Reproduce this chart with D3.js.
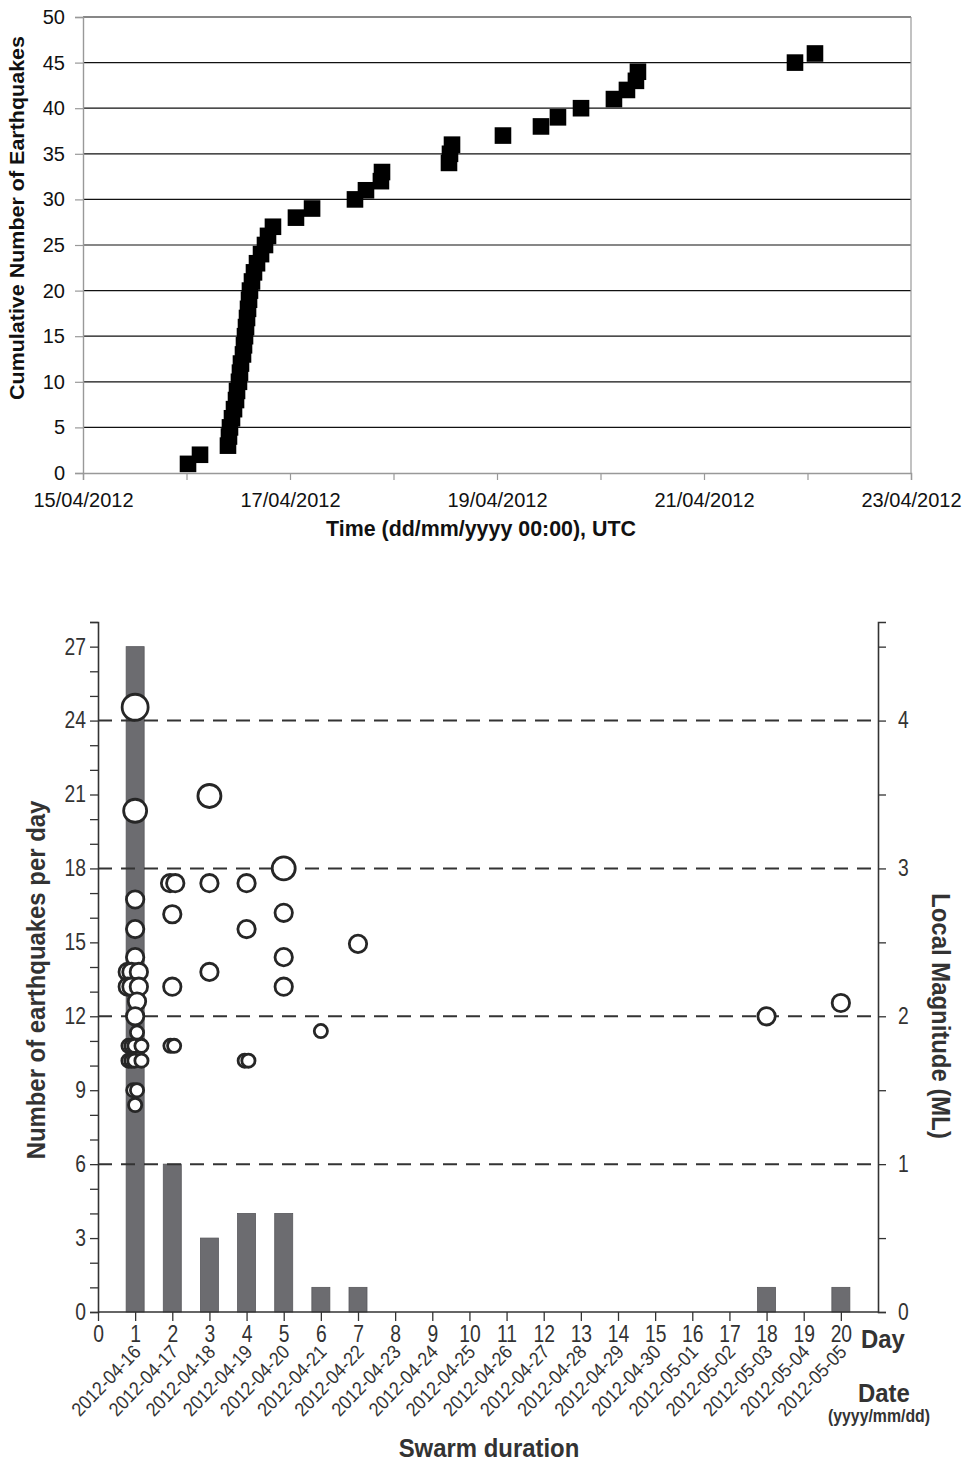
<!DOCTYPE html>
<html><head><meta charset="utf-8">
<script src="https://cdn.jsdelivr.net/npm/d3@7"></script>
<style>body{margin:0;background:#fff} svg{display:block}</style>
</head><body><svg id="c" width="973" height="1462"></svg>
<script>
// ---------- Top chart data ----------
const quakeTimes = [
 "2012-04-16T00:21Z","2012-04-16T03:08Z","2012-04-16T09:37Z","2012-04-16T09:51Z","2012-04-16T10:05Z",
 "2012-04-16T10:33Z","2012-04-16T11:01Z","2012-04-16T11:29Z","2012-04-16T11:43Z","2012-04-16T12:10Z",
 "2012-04-16T12:24Z","2012-04-16T12:38Z","2012-04-16T13:06Z","2012-04-16T13:20Z","2012-04-16T13:34Z",
 "2012-04-16T13:48Z","2012-04-16T14:02Z","2012-04-16T14:16Z","2012-04-16T14:30Z","2012-04-16T14:43Z",
 "2012-04-16T15:11Z","2012-04-16T15:39Z","2012-04-16T16:21Z","2012-04-16T17:17Z","2012-04-16T18:12Z",
 "2012-04-16T18:54Z","2012-04-16T20:03Z","2012-04-17T01:23Z","2012-04-17T05:07Z","2012-04-17T15:04Z",
 "2012-04-17T17:37Z","2012-04-17T21:05Z","2012-04-17T21:20Z","2012-04-18T12:52Z","2012-04-18T13:06Z",
 "2012-04-18T13:34Z","2012-04-19T01:23Z","2012-04-19T10:12Z","2012-04-19T14:08Z","2012-04-19T19:29Z",
 "2012-04-20T03:07Z","2012-04-20T06:08Z","2012-04-20T08:13Z","2012-04-20T08:41Z","2012-04-21T21:06Z",
 "2012-04-22T01:44Z"];
const cumulativeCounts = [1,2,3,4,5,6,7,8,9,10,11,12,13,14,15,16,17,18,19,20,21,22,23,24,25,26,27,28,29,30,
 31,32,33,34,35,36,37,38,39,40,41,42,43,44,45,46];
const topYTicks = [0,5,10,15,20,25,30,35,40,45,50];
const topXDomain = ["2012-04-15T00:00Z","2012-04-23T00:00Z"];
const topXLabelled = ["15/04/2012","17/04/2012","19/04/2012","21/04/2012","23/04/2012"];

// ---------- Bottom chart data ----------
const barDays = [1,2,3,4,5,6,7,18,20];
const dailyCounts = [27,6,3,4,4,1,1,1,1];
const eventDays = [1,1,1,1,1, 0.8,0.9,1.1, 0.8,0.9,1.1, 1.05,1.0,1.05, 0.82,0.9,0.98,1.17, 0.82,0.9,0.98,1.17, 0.95,1.05,1.0,
 1.94,2.08,2.0,2.0,1.95,2.05, 3,3,3, 4,4,3.95,4.05, 5,5,5,5, 6, 7, 18, 20];
const eventMags = [4.09,3.39,2.79,2.59,2.40, 2.30,2.30,2.30, 2.20,2.20,2.20, 2.10,2.00,1.89, 1.80,1.80,1.80,1.80, 1.70,1.70,1.70,1.70, 1.50,1.50,1.40,
 2.9,2.9,2.69,2.2,1.8,1.8, 3.49,2.9,2.3, 2.9,2.59,1.7,1.7, 3.0,2.7,2.4,2.2, 1.9, 2.49, 2.0, 2.09];
const dayTicks = [0,1,2,3,4,5,6,7,8,9,10,11,12,13,14,15,16,17,18,19,20];
const dateLabels = ["2012-04-16","2012-04-17","2012-04-18","2012-04-19","2012-04-20","2012-04-21","2012-04-22",
 "2012-04-23","2012-04-24","2012-04-25","2012-04-26","2012-04-27","2012-04-28","2012-04-29","2012-04-30",
 "2012-05-01","2012-05-02","2012-05-03","2012-05-04","2012-05-05"];
const countTicks = [0,3,6,9,12,15,18,21,24,27];
const magTicks = [0,1,2,3,4];

const svg = d3.select("#c");
svg.append("rect").attr("width",973).attr("height",1462).attr("fill","#fff");
const sans = "'Liberation Sans',Arial,sans-serif";
const SX = 0.84; // condensed look for tick numbers
const TX = 0.92; // condensed look for bold titles

function narrowify(sel, sx){
  sel.each(function(){
    const t = d3.select(this);
    const x = +(t.attr("x")||0);
    t.attr("x", x/sx).attr("transform", `scale(${sx},1)`);
  });
}

// ================= TOP CHART =================
const tx = d3.scaleUtc().domain(topXDomain.map(d=>new Date(d))).range([83,911]);
const ty = d3.scaleLinear().domain([0,50]).range([473,17]);
const topG = svg.append("g");
topG.selectAll("line.grid").data(topYTicks.filter(d=>d>0)).join("line")
  .attr("x1",83).attr("x2",911).attr("y1",d=>ty(d)).attr("y2",d=>ty(d))
  .attr("stroke","#111").attr("stroke-width",1.2);
topG.append("line").attr("x1",911).attr("x2",911).attr("y1",ty(50)).attr("y2",ty(0)).attr("stroke","#999").attr("stroke-width",1.2);
const yAx = topG.append("g").attr("transform","translate(83,0)")
  .call(d3.axisLeft(ty).tickValues(topYTicks).tickSize(8).tickPadding(6));
yAx.select(".domain").attr("stroke","#999").attr("stroke-width",1.4);
yAx.selectAll(".tick line").attr("stroke","#999").attr("stroke-width",1.2);
yAx.selectAll("text").attr("font-family",sans).attr("font-size",20).attr("fill","#111").attr("dx",-4);
const dayList = d3.utcDay.range(new Date(topXDomain[0]), d3.utcDay.offset(new Date(topXDomain[1]),1));
const xAx = topG.append("g").attr("transform","translate(0,473)")
  .call(d3.axisBottom(tx).tickValues(dayList).tickSize(7).tickPadding(13)
    .tickFormat((d,i)=> i%2===0 ? topXLabelled[i/2] : ""));
xAx.select(".domain").attr("stroke","#999").attr("stroke-width",1.4);
xAx.selectAll(".tick line").attr("stroke","#999").attr("stroke-width",1.2);
xAx.selectAll("text").attr("font-family",sans).attr("font-size",20).attr("fill","#111");
topG.selectAll("rect.pt").data(quakeTimes).join("rect")
  .attr("x",(d)=>tx(new Date(d))-8.3).attr("y",(d,i)=>ty(cumulativeCounts[i])-8.3)
  .attr("width",16.6).attr("height",16.6).attr("fill","#000");
topG.append("text").attr("x",481).attr("y",536).attr("text-anchor","middle")
  .attr("font-family",sans).attr("font-weight","bold").attr("font-size",21.5).attr("fill","#111")
  .attr("textLength",310).attr("lengthAdjust","spacingAndGlyphs")
  .text("Time (dd/mm/yyyy 00:00), UTC");
topG.append("text").attr("transform","translate(24,218) rotate(-90)").attr("text-anchor","middle")
  .attr("font-family",sans).attr("font-weight","bold").attr("font-size",21).attr("fill","#111")
  .attr("textLength",364).attr("lengthAdjust","spacingAndGlyphs")
  .text("Cumulative Number of Earthquakes");

// ================= BOTTOM CHART =================
const bx = d3.scaleLinear().domain([0,21]).range([98,878]);
const by = d3.scaleLinear().domain([0,28]).range([1312,622]);
const bm = d3.scaleLinear().domain([0,28/6]).range([1312,622]);
const rScale = d3.scaleThreshold().domain([2,3,4]).range([6.6,8.7,11.5,13]);
const bot = svg.append("g");
const ink = "#333";

bot.selectAll("rect.bar").data(barDays).join("rect")
  .attr("x",d=>bx(d)-9).attr("width",18)
  .attr("y",(d,i)=>by(dailyCounts[i])).attr("height",(d,i)=>by(0)-by(dailyCounts[i]))
  .attr("fill","#6c6c70").attr("stroke","#58585c").attr("stroke-width",0.8);

bot.selectAll("line.dash").data(magTicks.filter(d=>d>0)).join("line")
  .attr("x1",98).attr("x2",878).attr("y1",d=>bm(d)).attr("y2",d=>bm(d))
  .attr("stroke",ink).attr("stroke-width",2).attr("stroke-dasharray","14,9");

bot.selectAll("circle.ev").data(eventDays).join("circle")
  .attr("cx",d=>bx(d)).attr("cy",(d,i)=>bm(eventMags[i])).attr("r",(d,i)=>rScale(eventMags[i]))
  .attr("fill","#fff").attr("stroke","#262626").attr("stroke-width",2.8);

const lAx = bot.append("g").attr("transform","translate(98,0)")
  .call(d3.axisLeft(by).ticks(28).tickSize(8).tickPadding(4)
    .tickFormat(d=> countTicks.includes(d) ? d : ""));
lAx.select(".domain").attr("stroke",ink).attr("stroke-width",1.6);
lAx.selectAll(".tick line").attr("stroke",ink).attr("stroke-width",1.3);
lAx.selectAll("text").attr("font-family",sans).attr("font-size",23).attr("fill","#333").call(narrowify,SX);
const rAx = bot.append("g").attr("transform","translate(878,0)")
  .call(d3.axisRight(bm).tickValues(d3.range(0,4.6,0.5)).tickSize(8).tickPadding(12)
    .tickFormat(d=> magTicks.includes(d) ? d : ""));
rAx.select(".domain").attr("stroke",ink).attr("stroke-width",1.6);
rAx.selectAll(".tick line").attr("stroke",ink).attr("stroke-width",1.3);
rAx.selectAll("text").attr("font-family",sans).attr("font-size",23).attr("fill","#333").call(narrowify,SX);
const bAx = bot.append("g").attr("transform","translate(0,1312)")
  .call(d3.axisBottom(bx).tickValues(dayTicks).tickSize(9).tickPadding(5).tickFormat(d=>d));
bAx.select(".domain").attr("stroke",ink).attr("stroke-width",1.6).attr("d","M98,0H878");
bAx.selectAll(".tick line").attr("stroke",ink).attr("stroke-width",1.3);
bAx.selectAll("text").attr("font-family",sans).attr("font-size",23).attr("fill","#333").call(narrowify,SX);

bot.selectAll("text.date").data(dateLabels).join("text")
  .attr("transform",(d,i)=>`translate(${bx(dayTicks[i+1])+7},1353) rotate(-46) scale(0.9,1)`)
  .attr("text-anchor","end").attr("font-family",sans).attr("font-size",19.5).attr("fill","#333")
  .text(d=>d);

const bold = (x,y,txt,size,anchor,rot,sx)=>bot.append("text")
  .attr("transform",`translate(${x},${y})`+(rot?` rotate(${rot})`:"")+` scale(${sx||TX},1)`)
  .attr("text-anchor",anchor).attr("font-family",sans).attr("font-weight","bold")
  .attr("font-size",size).attr("fill","#333").text(txt);
bold(861,1348,"Day",26,"start");
bold(858,1402,"Date",26,"start");
bold(828,1422,"(yyyy/mm/dd)",18,"start",0,0.88);
bold(489,1457,"Swarm duration",26,"middle");
bold(45,980,"Number of earthquakes per day",26,"middle",-90);
bold(932,1016,"Local Magnitude (ML)",26,"middle",90);
</script></body></html>
